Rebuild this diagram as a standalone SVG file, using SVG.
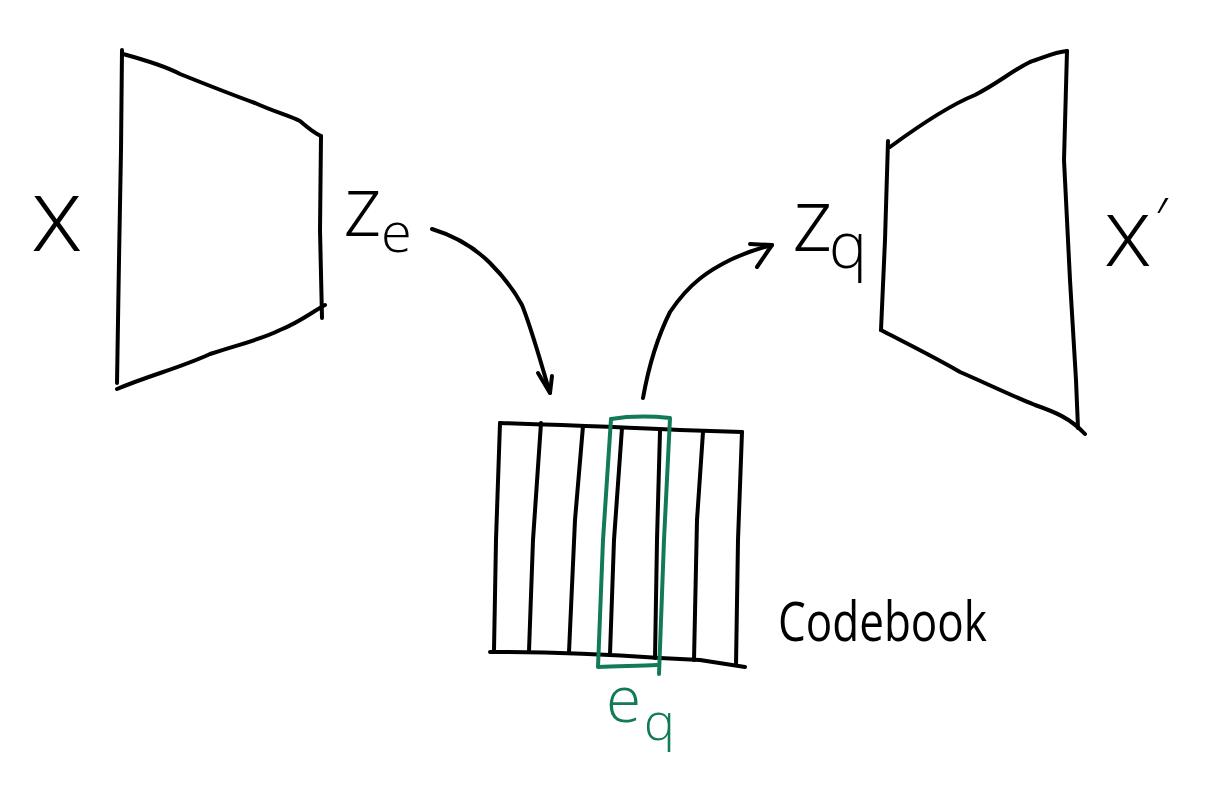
<svg xmlns="http://www.w3.org/2000/svg" width="1220" height="790" viewBox="0 0 1220 790">
<style>
.ink{fill:none;stroke:#000;stroke-width:4;stroke-linecap:round;stroke-linejoin:round}
.grn{fill:none;stroke:#137a57;stroke-width:4;stroke-linecap:round;stroke-linejoin:round}
.lbl{font-family:"Open Sans","Lato","Liberation Sans",sans-serif;font-weight:300;fill:#000}
.lblg{font-family:"Open Sans","Lato","Liberation Sans",sans-serif;font-weight:300;fill:#137a57}
.cb{font-family:"Open Sans","Lato","Liberation Sans",sans-serif;font-weight:400;fill:#000}
</style>
<rect width="1220" height="790" fill="#fff"/>
<g id="encoder">
<path class="ink" d="M122,50 L121,150 L119,260 L117,383"/>
<path class="ink" d="M123,54 C145,60 165,66 180,74 C200,82 230,94 255,103 C275,112 290,116 300,121 C308,128 314,133 321,136"/>
<path class="ink" d="M321,136 L320,230 L322,318"/>
<path class="ink" d="M117,389 C150,375 180,368 210,354 C240,344 260,340 280,330 C300,322 312,312 325,305"/>
</g>
<g id="decoder">
<path class="ink" d="M888,141 L885,240 L881,330"/>
<path class="ink" d="M890,147 C920,125 950,105 975,95 C1000,82 1010,72 1030,62 C1045,57 1055,52 1067,51"/>
<path class="ink" d="M1067,51 L1064,160 L1070,280 L1076,380 L1078,428"/>
<path class="ink" d="M881,330 C910,345 940,360 960,372 C990,385 1010,395 1035,405 C1055,412 1070,418 1085,434"/>
</g>
<g id="codebook">
<path class="ink" d="M500,423 C560,425 620,427 680,430 L742,432"/>
<path class="ink" d="M490,652 C550,652 600,654 660,658 L700,660 L745,667"/>
<path class="ink" d="M500,423 L496,540 L494,650"/>
<path class="ink" d="M541,423 L533,540 L529,651"/>
<path class="ink" d="M583,426 L575,520 L569,652"/>
<path class="ink" d="M622,428 L614,540 L610,654"/>
<path class="ink" d="M660,431 L657,540 L655,658"/>
<path class="ink" d="M703,432 L697,520 L694,660"/>
<path class="ink" d="M742,432 L738,540 L736,665"/>
<text class="cb" x="778" y="641" font-size="54" textLength="209" lengthAdjust="spacingAndGlyphs">Codebook</text>
</g>
<g id="eq-highlight">
<path class="grn" d="M611,419 C630,416 650,416 670,418 L664,540 L659,674"/>
<path class="grn" d="M611,419 L603,540 L598,667 C620,666 640,666 657,665"/>
<text class="lblg" x="606" y="722" font-size="64">e</text>
<text class="lblg" x="644" y="740" font-size="52">q</text>
</g>
<g id="label-x">
<text class="lbl" x="31" y="251" font-size="104">x</text>
</g>
<g id="label-ze">
<text class="lbl" x="343" y="236" font-size="84">z</text>
<text class="lbl" x="381" y="252" font-size="56">e</text>
</g>
<g id="label-zq">
<text class="lbl" x="792" y="251" font-size="88">z</text>
<text class="lbl" x="829" y="268" font-size="64">q</text>
</g>
<g id="label-xprime">
<text class="lbl" x="1104" y="266" font-size="96">x</text>
<text class="lbl" x="1155" y="242" font-size="60">′</text>
</g>
<g id="connectors">
<path class="ink" d="M432,229 C455,236 475,248 490,263 C505,278 515,292 522,305 C532,330 540,360 550,393"/>
<path class="ink" d="M538,373 L550,393 L552,376"/>
<path class="ink" d="M643,398 C648,370 656,340 670,312 C690,282 710,270 730,260 C745,253 760,248 772,245"/>
<path class="ink" d="M750,244 L772,245 L757,267"/>
</g>
</svg>
